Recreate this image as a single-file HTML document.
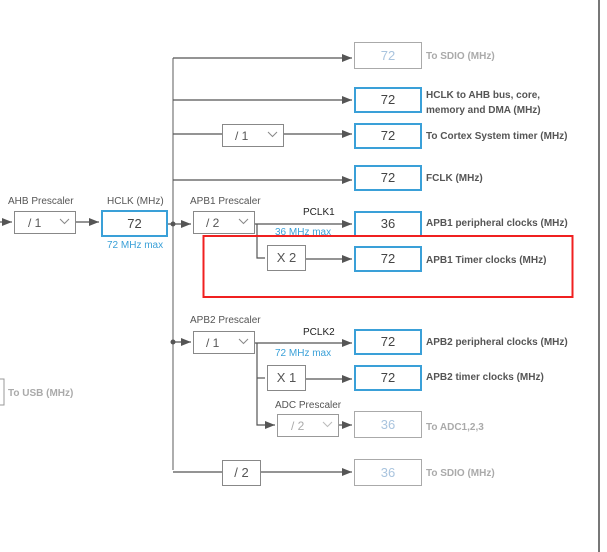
<!DOCTYPE html>
<html><head><meta charset="utf-8"><style>
html,body{margin:0;padding:0;background:#fff;}
svg{display:block;font-family:"Liberation Sans",Arial,sans-serif;}
.lbl{font-size:10px;font-weight:bold;fill:#555;}
.lbl.g{fill:#aaa;}
.val{font-size:13px;fill:#444;text-anchor:middle;}
.val.g{fill:#a9c4de;}
.sm{font-size:10px;fill:#555;}
.bl{font-size:10px;fill:#3aa0d8;}
</style></head><body>
<svg width="607" height="552" viewBox="0 0 607 552">
<defs><marker id="a" markerWidth="10" markerHeight="8" refX="10" refY="4" orient="auto" markerUnits="userSpaceOnUse"><path d="M0,0L10,4L0,8z" fill="#555"/></marker></defs>
<rect width="607" height="552" fill="#fff"/>
<line x1="599" y1="0" x2="599" y2="552" stroke="#777" stroke-width="2"/>
<line x1="173" y1="58" x2="173" y2="470" stroke="#777" stroke-width="1.2"/>
<g stroke="#555" stroke-width="1.2" fill="none">
<line x1="173" y1="58" x2="352" y2="58" marker-end="url(#a)"/>
<line x1="173" y1="100" x2="352" y2="100" marker-end="url(#a)"/>
<line x1="173" y1="134" x2="222" y2="134"/>
<line x1="283" y1="134" x2="352" y2="134" marker-end="url(#a)"/>
<line x1="173" y1="180" x2="352" y2="180" marker-end="url(#a)"/>
<line x1="75" y1="222" x2="99" y2="222" marker-end="url(#a)"/>
<line x1="0" y1="222" x2="12" y2="222" marker-end="url(#a)"/>
<line x1="168" y1="224" x2="191" y2="224" marker-end="url(#a)"/>
<line x1="254" y1="224" x2="352" y2="224" marker-end="url(#a)"/>
<polyline points="257,224 257,258 265,258"/>
<line x1="305" y1="259" x2="352" y2="259" marker-end="url(#a)"/>
<line x1="173" y1="342" x2="191" y2="342" marker-end="url(#a)"/>
<line x1="254" y1="343" x2="352" y2="343" marker-end="url(#a)"/>
<polyline points="257,343 257,425 275,425" marker-end="url(#a)"/>
<line x1="257" y1="378" x2="265" y2="378"/>
<line x1="305" y1="379" x2="352" y2="379" marker-end="url(#a)"/>
<line x1="338" y1="425" x2="352" y2="425" marker-end="url(#a)"/>
<line x1="173" y1="472" x2="222" y2="472"/>
<line x1="260" y1="472" x2="352" y2="472" marker-end="url(#a)"/>
</g>
<circle cx="173" cy="224" r="2.5" fill="#555"/>
<circle cx="173" cy="342" r="2.5" fill="#555"/>
<rect x="-10" y="379" width="14" height="26" fill="#fff" stroke="#999"/>
<text x="8" y="396" class="lbl g">To USB (MHz)</text>
<text x="8" y="204" class="sm">AHB Prescaler</text>
<rect x="14.5" y="211.5" width="61" height="22" fill="#fff" stroke="#888"/>
<text x="28" y="227" class="sm" style="font-size:12px">/ 1</text>
<path d="M60 219l4.5 4.5l4.5-4.5" stroke="#888" fill="none"/>
<text x="107" y="204" class="sm">HCLK (MHz)</text>
<rect x="102" y="211" width="65" height="25" fill="#fff" stroke="#3aa0d8" stroke-width="2"/>
<text x="134.5" y="228" class="val">72</text>
<text x="107" y="248" class="bl">72 MHz max</text>
<rect x="222.5" y="124.5" width="61" height="22" fill="#fff" stroke="#888"/>
<text x="235" y="140" class="sm" style="font-size:12px">/ 1</text>
<path d="M268 132l4.5 4.5l4.5-4.5" stroke="#888" fill="none"/>
<text x="190" y="204" class="sm">APB1 Prescaler</text>
<rect x="193.5" y="211.5" width="61" height="22" fill="#fff" stroke="#888"/>
<text x="206" y="227" class="sm" style="font-size:12px">/ 2</text>
<path d="M239 219l4.5 4.5l4.5-4.5" stroke="#888" fill="none"/>
<text x="303" y="215" class="sm" style="fill:#222">PCLK1</text>
<text x="275" y="235" class="bl">36 MHz max</text>
<rect x="267.5" y="245.5" width="38" height="25" fill="#fff" stroke="#888"/>
<text x="286.5" y="262" class="val" style="fill:#555">X 2</text>
<text x="190" y="323" class="sm">APB2 Prescaler</text>
<rect x="193.5" y="331.5" width="61" height="22" fill="#fff" stroke="#888"/>
<text x="206" y="347" class="sm" style="font-size:12px">/ 1</text>
<path d="M239 339l4.5 4.5l4.5-4.5" stroke="#888" fill="none"/>
<text x="303" y="335" class="sm" style="fill:#222">PCLK2</text>
<text x="275" y="356" class="bl">72 MHz max</text>
<rect x="267.5" y="365.5" width="38" height="25" fill="#fff" stroke="#888"/>
<text x="286.5" y="382" class="val" style="fill:#555">X 1</text>
<text x="275" y="408" class="sm">ADC Prescaler</text>
<rect x="277.5" y="414.5" width="61" height="22" fill="#fff" stroke="#999"/>
<text x="291" y="430" class="sm" style="font-size:12px;fill:#aaa">/ 2</text>
<path d="M323 422l4.5 4.5l4.5-4.5" stroke="#bbb" fill="none"/>
<rect x="222.5" y="460.5" width="38" height="25" fill="#fff" stroke="#888"/>
<text x="241.5" y="477" class="val" style="fill:#555">/ 2</text>
<rect x="354.5" y="42.5" width="67" height="26" fill="#fff" stroke="#aaa"/>
<text x="388" y="60" class="val g">72</text>
<text x="426" y="59" class="lbl g">To SDIO (MHz)</text>
<rect x="355" y="88" width="66" height="24" fill="#fff" stroke="#3aa0d8" stroke-width="2"/>
<text x="388" y="104" class="val">72</text>
<text x="426" y="98" class="lbl">HCLK to AHB bus, core,</text>
<text x="426" y="113" class="lbl">memory and DMA (MHz)</text>
<rect x="355" y="124" width="66" height="24" fill="#fff" stroke="#3aa0d8" stroke-width="2"/>
<text x="388" y="140" class="val">72</text>
<text x="426" y="139" class="lbl">To Cortex System timer (MHz)</text>
<rect x="355" y="166" width="66" height="24" fill="#fff" stroke="#3aa0d8" stroke-width="2"/>
<text x="388" y="182" class="val">72</text>
<text x="426" y="181" class="lbl">FCLK (MHz)</text>
<rect x="355" y="212" width="66" height="24" fill="#fff" stroke="#3aa0d8" stroke-width="2"/>
<text x="388" y="228" class="val">36</text>
<text x="426" y="226" class="lbl">APB1 peripheral clocks (MHz)</text>
<rect x="355" y="247" width="66" height="24" fill="#fff" stroke="#3aa0d8" stroke-width="2"/>
<text x="388" y="263" class="val">72</text>
<text x="426" y="263" class="lbl">APB1 Timer clocks (MHz)</text>
<rect x="355" y="330" width="66" height="24" fill="#fff" stroke="#3aa0d8" stroke-width="2"/>
<text x="388" y="346" class="val">72</text>
<text x="426" y="345" class="lbl">APB2 peripheral clocks (MHz)</text>
<rect x="355" y="366" width="66" height="24" fill="#fff" stroke="#3aa0d8" stroke-width="2"/>
<text x="388" y="382" class="val">72</text>
<text x="426" y="380" class="lbl">APB2 timer clocks (MHz)</text>
<rect x="354.5" y="411.5" width="67" height="26" fill="#fff" stroke="#aaa"/>
<text x="388" y="429" class="val g">36</text>
<text x="426" y="430" class="lbl g">To ADC1,2,3</text>
<rect x="354.5" y="459.5" width="67" height="26" fill="#fff" stroke="#aaa"/>
<text x="388" y="477" class="val g">36</text>
<text x="426" y="476" class="lbl g">To SDIO (MHz)</text>
<rect x="203.5" y="236" width="369" height="61" fill="none" stroke="#f02020" stroke-width="2"/>
</svg>
</body></html>
